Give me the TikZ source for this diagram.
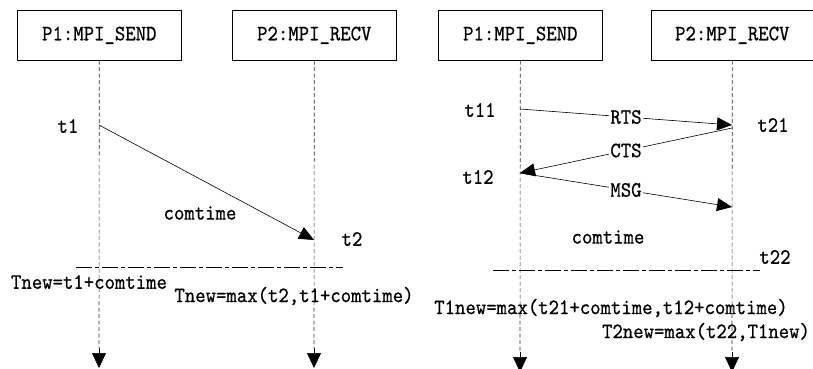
\documentclass[tikz,border=0pt]{standalone}
\usepackage{fontspec}
\newfontfamily\monofnt[FakeStretch=0.9,FakeBold=0.6,Extension=.otf]{lmmono10-regular}
\usetikzlibrary{arrows.meta}
\begin{document}
\begin{tikzpicture}[x=1pt,y=-1pt,
  every node/.style={font=\monofnt\fontsize{22}{24}\selectfont, inner sep=0pt},
  procbox/.style={draw, line width=0.6pt, minimum width=164pt, minimum height=50pt, anchor=north west},
  lifeline/.style={draw=black!80, line width=0.6pt, dash pattern=on 4pt off 2.5pt},
  lifetip/.style={line width=0.6pt, -{Triangle[length=15pt,width=14pt]}},
  msg/.style={line width=0.6pt, -{Triangle[length=15pt,width=13pt]}},
  sync/.style={line width=0.6pt, dash pattern=on 16pt off 3pt on 4pt off 3pt},
  lbl/.style={fill=white, inner sep=1pt}]
\useasboundingbox (0,0) rectangle (813,369);
% left diagram
\node[procbox] (b1) at (17,10) {P1:MPI\_SEND};
\node[procbox] (b2) at (232,10) {P2:MPI\_RECV};
\coordinate (m1) at (99,348);
\coordinate (m2) at (314,348);
\coordinate (e1) at (99,368);
\coordinate (e2) at (314,368);
\draw[lifeline] (b1.south) -- (m1);
\draw[lifeline] (b2.south) -- (m2);
\draw[lifetip] (m1) -- (e1);
\draw[lifetip] (m2) -- (e2);
\coordinate (s1) at (99,125);
\coordinate (r1) at (314,240);
\draw[msg] (s1) -- (r1);
\node (t1) at (68,126) {t1};
\node (t2) at (352,239) {t2};
\node (ct1) at (200,213) {comtime};
\coordinate (dl1) at (76,267);
\coordinate (dr1) at (343,267);
\draw[sync] (dl1) -- (dr1);
\node (tn1) at (89,282) {Tnew=t1+comtime};
\node (tn2) at (294,296) {Tnew=max(t2,t1+comtime)};
% right diagram
\node[procbox] (b3) at (438,10) {P1:MPI\_SEND};
\node[procbox, minimum width=162pt] (b4) at (651,10) {P2:MPI\_RECV};
\coordinate (m3) at (520,352);
\coordinate (m4) at (732,352);
\coordinate (e3) at (520,372);
\coordinate (e4) at (732,372);
\draw[lifeline] (b3.south) -- (m3);
\draw[lifeline] (b4.south) -- (m4);
\draw[lifetip] (m3) -- (e3);
\draw[lifetip] (m4) -- (e4);
\coordinate (a1) at (520,109);
\coordinate (a2) at (732,125);
\coordinate (a3) at (732,128);
\coordinate (a4) at (520,173);
\coordinate (a5) at (732,207);
\draw[msg] (a1) -- node[lbl] (rts) {RTS} (a2);
\draw[msg] (a3) -- node[lbl] (cts) {CTS} (a4);
\draw[msg] (a4) -- node[lbl] (msgl) {MSG} (a5);
\node (t11) at (480,110) {t11};
\node (t21) at (773,125) {t21};
\node (t12) at (478,177) {t12};
\node (ct2) at (608,237) {comtime};
\node (t22) at (775,257) {t22};
\coordinate (dl2) at (493,270);
\coordinate (dr2) at (760,270);
\draw[sync] (dl2) -- (dr2);
\node (tn3) at (611,308) {T1new=max(t21+comtime,t12+comtime)};
\node (tn4) at (706,332) {T2new=max(t22,T1new)};
\end{tikzpicture}
\end{document}
